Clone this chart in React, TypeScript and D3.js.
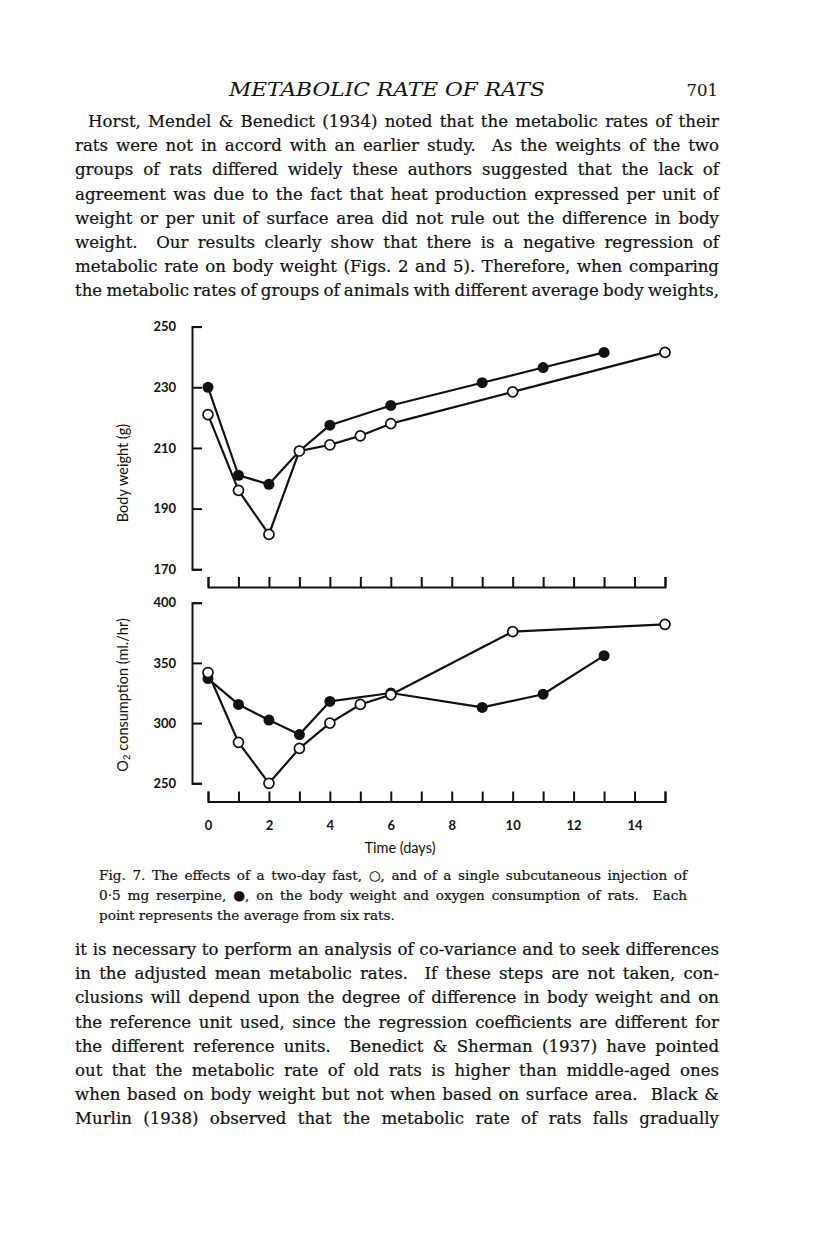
import React, { useEffect, useLayoutEffect, useRef } from 'react';
import * as d3 from 'd3';

// time axis (days)
const dayTicks = [0, 1, 2, 3, 4, 5, 6, 7, 8, 9, 10, 11, 12, 13, 14, 15];
const dayLabels = [0, 2, 4, 6, 8, 10, 12, 14];

// reserpine (filled) and two-day fast (open)
const reserpineDays = [0, 1, 2, 3, 4, 6, 9, 11, 13];
const fastDays = [0, 1, 2, 3, 4, 5, 6, 10, 15];

const weightReserpine = [230, 201, 198, 209, 217.5, 224, 231.5, 236.5, 241.5];
const weightFast = [221, 196, 181.5, 209, 211, 214, 218, 228.5, 241.5];
const o2Reserpine = [337, 315.5, 302.5, 290.5, 318, 325, 313, 324, 356];
const o2Fast = [342, 284, 250, 279, 300, 315.5, 323.5, 376, 382];

const weightTicks = [170, 190, 210, 230, 250];
const o2Ticks = [250, 300, 350, 400];

const headerTitle = 'METABOLIC RATE OF RATS';
const pageNumber = '701';

const topLines = [
    'Horst, Mendel & Benedict (1934) noted that the metabolic rates of their',
    'rats were not in accord with an earlier study.  As the weights of the two',
    'groups of rats differed widely these authors suggested that the lack of',
    'agreement was due to the fact that heat production expressed per unit of',
    'weight or per unit of surface area did not rule out the difference in body',
    'weight.  Our results clearly show that there is a negative regression of',
    'metabolic rate on body weight (Figs. 2 and 5). Therefore, when comparing',
    'the metabolic rates of groups of animals with different average body weights,'
];

const captionLines = [
    'Fig. 7. The effects of a two-day fast, \u25CB, and of a single subcutaneous injection of',
    '0\u00B75 mg reserpine, \u25CF, on the body weight and oxygen consumption of rats.  Each',
    'point represents the average from six rats.'
];

const bottomLines = [
    'it is necessary to perform an analysis of co-variance and to seek differences',
    'in the adjusted mean metabolic rates.  If these steps are not taken, con-',
    'clusions will depend upon the degree of difference in body weight and on',
    'the reference unit used, since the regression coefficients are different for',
    'the different reference units.  Benedict & Sherman (1937) have pointed',
    'out that the metabolic rate of old rats is higher than middle-aged ones',
    'when based on body weight but not when based on surface area.  Black &',
    'Murlin (1938) observed that the metabolic rate of rats falls gradually'
];

const PAGE_W = 816;
const PAGE_H = 1234;
const TEXT_LEFT = 75;
const TEXT_RIGHT = 719;
const SERIF = '"DejaVu Serif", "Liberation Serif", serif';
const SANS = 'Lato, "Open Sans", sans-serif';
const INK = '#111';

const AXIS_X = 192;
const DAY0_X = 208;
const DAY15_X = 665;

function zip(days, values) {
    return days.map((d, i) => ({ day: d, value: values[i] }));
}

function drawPanel(g, x, y, yTicks, axisY, showLabels, series) {
    const yAxis = d3.axisLeft(y)
        .tickValues(yTicks)
        .tickSize(-10)
        .tickPadding(16);

    g.append('g')
        .attr('transform', 'translate(' + AXIS_X + ',0)')
        .call(yAxis);

    const xAxis = d3.axisBottom(x)
        .tickValues(dayTicks)
        .tickSize(-10)
        .tickPadding(19)
        .tickFormat(d => (showLabels && dayLabels.includes(d)) ? String(d) : '');

    g.append('g')
        .attr('transform', 'translate(0,' + axisY + ')')
        .call(xAxis);

    g.selectAll('.domain, .tick line')
        .attr('stroke', INK)
        .attr('stroke-width', 2);
    g.selectAll('.tick text')
        .attr('fill', INK)
        .style('font-family', SANS)
        .style('font-weight', 'bold')
        .style('font-size', '13px');

    const line = d3.line()
        .x(d => x(d.day))
        .y(d => y(d.value));

    for (const s of series) {
        g.append('path')
            .datum(s.points)
            .attr('d', line)
            .attr('fill', 'none')
            .attr('stroke', INK)
            .attr('stroke-width', 2.2)
            .attr('stroke-linejoin', 'round');
    }

    for (const s of series) {
        g.append('g')
            .selectAll('circle')
            .data(s.points)
            .enter()
            .append('circle')
            .attr('cx', d => x(d.day))
            .attr('cy', d => y(d.value))
            .attr('r', s.filled ? 5.5 : 5)
            .attr('fill', s.filled ? INK : '#fff')
            .attr('stroke', INK)
            .attr('stroke-width', s.filled ? 0 : 1.7);
    }
}

function Chart() {
    const ref = useRef(null);

    useEffect(() => {
        const root = d3.select(ref.current);
        root.selectAll('*').remove();

        const x = d3.scaleLinear().domain([0, 15]).range([DAY0_X, DAY15_X]);
        const yWeight = d3.scaleLinear().domain([170, 250]).range([569.3, 326.6]);
        const yO2 = d3.scaleLinear().domain([250, 400]).range([783.3, 602.7]);

        drawPanel(root.append('g'), x, yWeight, weightTicks, 587, false, [
            { points: zip(reserpineDays, weightReserpine), filled: true },
            { points: zip(fastDays, weightFast), filled: false }
        ]);

        drawPanel(root.append('g'), x, yO2, o2Ticks, 801.5, true, [
            { points: zip(reserpineDays, o2Reserpine), filled: true },
            { points: zip(fastDays, o2Fast), filled: false }
        ]);
    }, []);

    return <g ref={ref}></g>;
}

// justify a line by stretching its word spaces, like the printed page
function Line({ x, y, width, text, size, justify }) {
    const ref = useRef(null);

    useLayoutEffect(() => {
        const el = ref.current;
        el.style.wordSpacing = '0px';
        el.removeAttribute('textLength');
        if (!justify) return;
        const natural = el.getComputedTextLength();
        const gaps = (text.match(/ /g) || []).length;
        const extra = (width - natural) / Math.max(gaps, 1);
        if (extra >= -1.5) {
            el.style.wordSpacing = extra + 'px';
        } else {
            el.setAttribute('textLength', String(width));
            el.setAttribute('lengthAdjust', 'spacingAndGlyphs');
        }
    }, [text, width, justify]);

    return (
        <text ref={ref} x={x} y={y}
            style={{ fontFamily: SERIF, fontSize: size + 'px', fill: INK, stroke: INK,
                strokeWidth: 0.2, whiteSpace: 'pre' }}>
            {text}
        </text>
    );
}

function Paragraph({ lines, top, indentFirst }) {
    return (
        <g>
            {lines.map((t, i) => {
                const x = (i === 0 && indentFirst) ? TEXT_LEFT + 13 : TEXT_LEFT;
                return (
                    <Line key={i} x={x} y={top + i * 24.2} width={TEXT_RIGHT - x}
                        text={t} size={16.6} justify={true} />
                );
            })}
        </g>
    );
}

export default function App() {
    return (
        <svg width={PAGE_W} height={PAGE_H}
            style={{ position: 'absolute', left: 0, top: 0, background: '#fff' }}>
            <rect width={PAGE_W} height={PAGE_H} fill="#fff" />

            <text x={229} y={96} textLength={316} lengthAdjust="spacingAndGlyphs"
                style={{ fontFamily: SERIF, fontStyle: 'italic', fontSize: '18px', fill: INK }}>
                {headerTitle}
            </text>
            <text x={718} y={96} textAnchor="end"
                style={{ fontFamily: SERIF, fontSize: '16.5px', fill: INK }}>
                {pageNumber}
            </text>

            <Paragraph lines={topLines} top={127} indentFirst={true} />

            <Chart />

            <text transform="translate(122,473) rotate(-90)" textAnchor="middle" dominantBaseline="central"
                style={{ fontFamily: SANS, fontSize: '14.5px', fill: INK }}>
                Body weight (g)
            </text>
            <text transform="translate(122,695) rotate(-90)" textAnchor="middle" dominantBaseline="central"
                style={{ fontFamily: SANS, fontSize: '14.5px', fill: INK }}>
                O<tspan dy="4" style={{ fontSize: '10px' }}>2</tspan><tspan dy="-4"> consumption (ml./hr)</tspan>
            </text>
            <text x={400} y={853} textAnchor="middle"
                style={{ fontFamily: SANS, fontSize: '14.5px', fill: INK }}>
                Time (days)
            </text>

            {captionLines.map((t, i) => (
                <Line key={i} x={99} y={880 + i * 20} width={588}
                    text={t} size={13.6} justify={i < 2} />
            ))}

            <Paragraph lines={bottomLines} top={955} indentFirst={false} />
        </svg>
    );
}
